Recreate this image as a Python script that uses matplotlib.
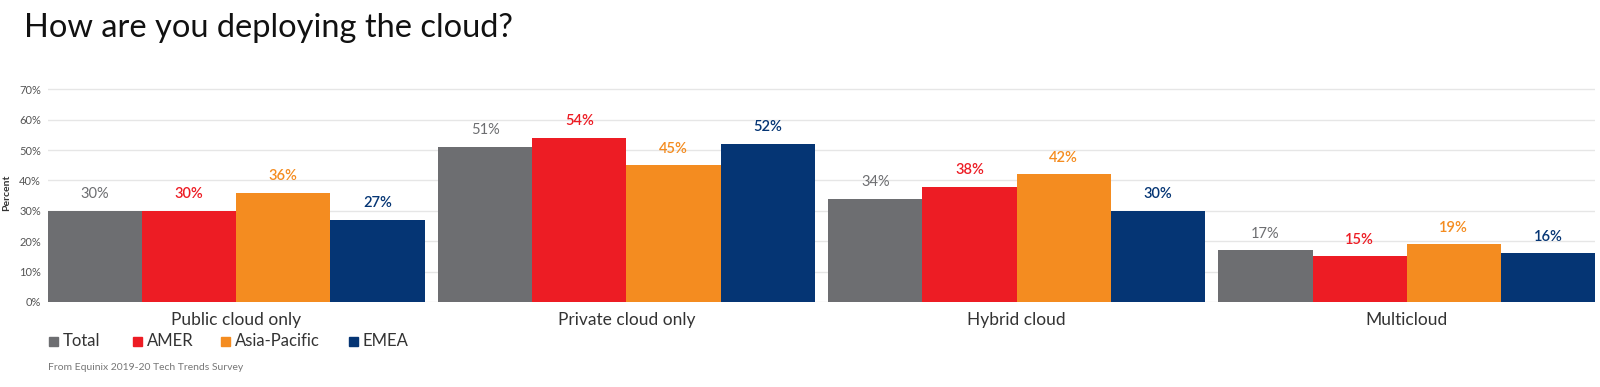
import matplotlib
matplotlib.use("Agg")
import matplotlib.pyplot as plt
import numpy as np
from matplotlib.patches import Rectangle

categories = ["Public cloud only", "Private cloud only", "Hybrid cloud", "Multicloud"]
series_names = ["Total", "AMER", "Asia-Pacific", "EMEA"]
total = [30, 51, 34, 17]
amer = [30, 54, 38, 15]
apac = [36, 45, 42, 19]
emea = [27, 52, 30, 16]
yticks = [0, 10, 20, 30, 40, 50, 60, 70]

series = [total, amer, apac, emea]
colors = ["#6d6e71", "#ed1c24", "#f48c20", "#053574"]
label_colors = ["#6d6e71", "#ed1c24", "#f48c20", "#053574"]

plt.rcParams['font.family'] = ['Lato', 'DejaVu Sans']

fig = plt.figure(figsize=(16, 3.87), dpi=100)
ax = fig.add_axes([48/1600, 85/387, 1547/1600, 218.8/387])

group_w = 0.965
bw = group_w / 4
x = np.arange(len(categories))
for i, (vals, c, lc) in enumerate(zip(series, colors, label_colors)):
    pos = x - group_w/2 + bw*(i + 0.5)
    ax.bar(pos, vals, width=bw, color=c, zorder=3, linewidth=0)
    for p, v in zip(pos, vals):
        ax.annotate(f"{v}%", (p, v), xytext=(0, 12), textcoords="offset points",
                    ha="center", va="center", fontsize=10.5, color=lc,
                    fontweight="semibold" if i > 0 else "normal")

ax.set_xlim(-group_w/2, len(categories) - 1 + group_w/2)
ax.set_ylim(0, 72)
ax.set_yticks(yticks)
ax.set_yticklabels([f"{t}%" for t in yticks], fontsize=8, color="#555555")
ax.grid(axis="y", color="#e6e6e6", linewidth=1, zorder=0)
ax.set_xticks(x)
ax.set_xticklabels(categories, fontsize=12.5, color="#333333")
ax.tick_params(axis="both", length=0)
ax.tick_params(axis="x", pad=7)
ax.tick_params(axis="y", pad=5)
for s in ax.spines.values():
    s.set_visible(False)
ax.set_ylabel("Percent", fontsize=7.5, fontweight="bold", color="#333333", labelpad=6)

fig.text(24/1600, 1 - 28/387, "How are you deploying the cloud?", fontsize=23.5,
         color="#111111", va="center", ha="left")

# legend
leg_x = [49, 133, 221, 349]
for lx, name, c in zip(leg_x, series_names, colors):
    fig.patches.append(Rectangle((lx/1600, 1 - 345.5/387), 9/1600, 9/387,
                                 transform=fig.transFigure, color=c, figure=fig))
    fig.text((lx + 14)/1600, 1 - 341/387, name, fontsize=12, color="#333333",
             va="center", ha="left")

fig.text(48/1600, 1 - 368/387, "From Equinix 2019-20 Tech Trends Survey", fontsize=7.5,
         color="#777777", va="center", ha="left")

fig.savefig("out.png", dpi=100, facecolor="white")
